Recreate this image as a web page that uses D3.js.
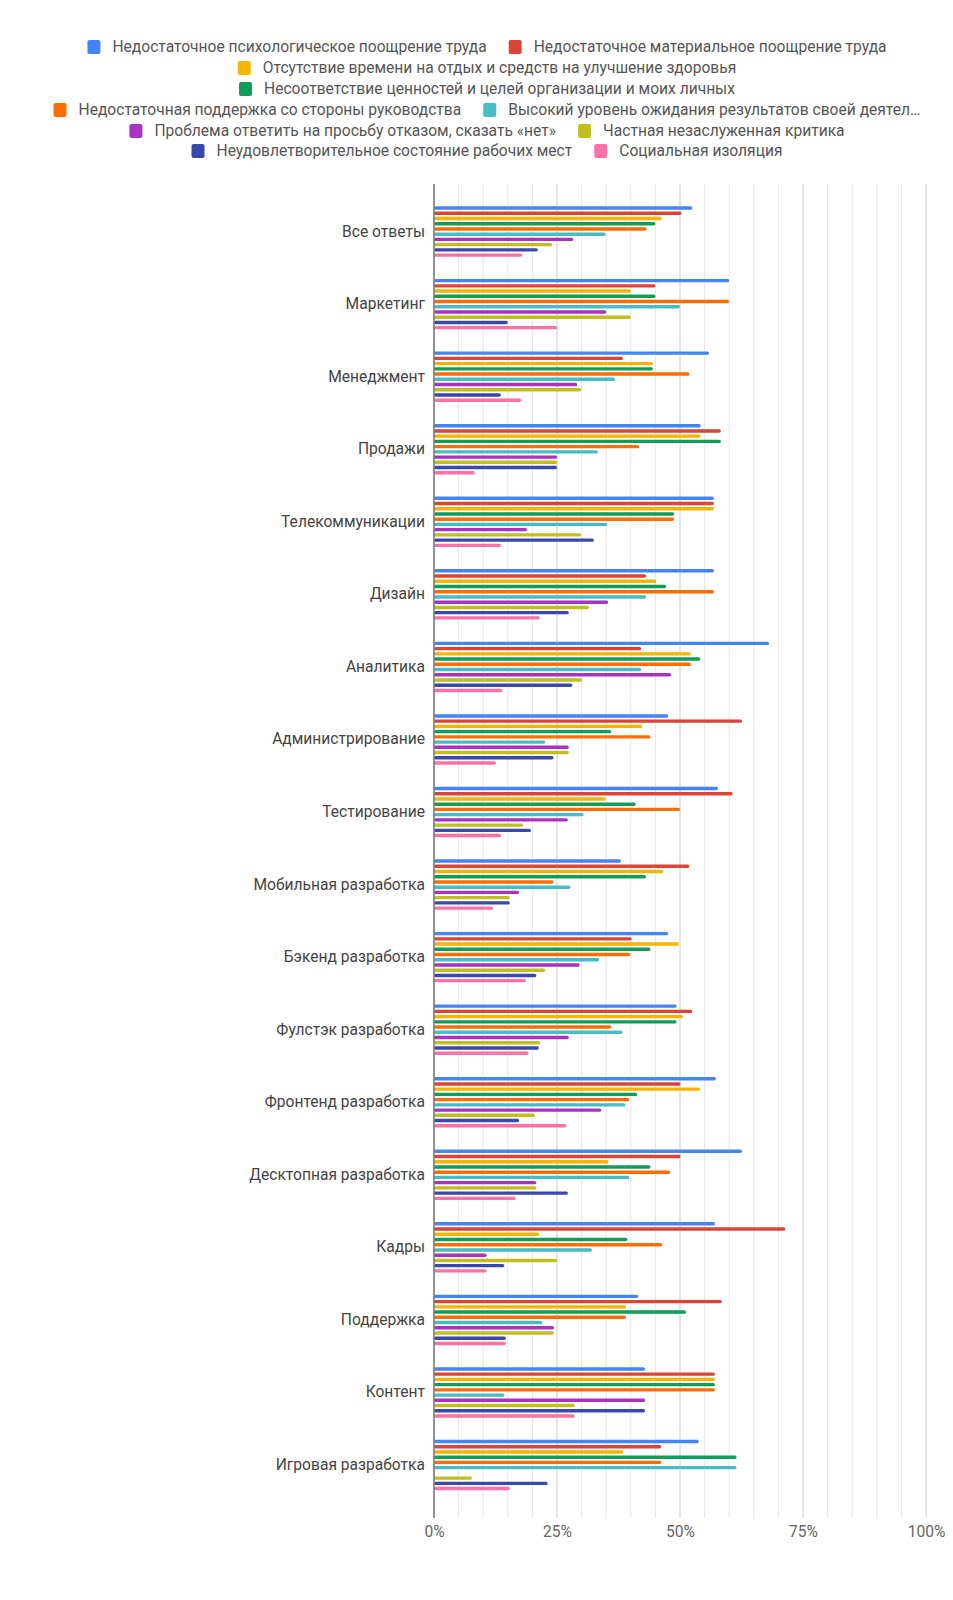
<!DOCTYPE html>
<html><head><meta charset="utf-8">
<script src="https://cdn.jsdelivr.net/npm/d3@7/dist/d3.min.js"></script>
<style>
html,body{margin:0;padding:0;background:#fff;}
svg{display:block;font-family:Roboto,"Noto Sans",Arial,sans-serif;}
</style></head>
<body>
<svg id="chart" width="953" height="1600"></svg>
<script>
const categories = ["Все ответы","Маркетинг","Менеджмент","Продажи","Телекоммуникации","Дизайн","Аналитика","Администрирование","Тестирование","Мобильная разработка","Бэкенд разработка","Фулстэк разработка","Фронтенд разработка","Десктопная разработка","Кадры","Поддержка","Контент","Игровая разработка"];

const seriesNames = [
  "Недостаточное психологическое поощрение труда",
  "Недостаточное материальное поощрение труда",
  "Отсутствие времени на отдых и средств на улучшение здоровья",
  "Несоответствие ценностей и целей организации и моих личных",
  "Недостаточная поддержка со стороны руководства",
  "Высокий уровень ожидания результатов своей деятельности",
  "Проблема ответить на просьбу отказом, сказать «нет»",
  "Частная незаслуженная критика",
  "Неудовлетворительное состояние рабочих мест",
  "Социальная изоляция"
];
const seriesColors = ["#4285F4","#DB4437","#F4B400","#0F9D58","#FF6D00","#46BDC6","#AB30C4","#C2BE1E","#3949AB","#FF70A8"];

const psychReward   = [52.5,60,55.9,54.2,56.9,56.9,68.1,47.6,57.7,38.0,47.6,49.3,57.3,62.6,57.1,41.5,42.9,53.8];
const materialReward= [50.3,45,38.4,58.3,56.9,43.1,42.1,62.6,60.7,51.9,40.2,52.5,50.1,50.1,71.4,58.5,57.1,46.2];
const noRest        = [46.3,40,44.5,54.2,56.9,45.2,52.2,42.3,34.9,46.6,49.8,50.6,54.1,35.5,21.4,39.0,57.1,38.5];
const valuesMismatch= [45.0,45,44.5,58.3,48.8,47.2,54.1,36.0,41.0,43.1,44.0,49.3,41.3,44.0,39.3,51.2,57.1,61.5];
const lowSupport    = [43.2,60,51.9,41.7,48.8,56.9,52.2,44.0,50.0,24.3,39.9,36.0,39.7,48.0,46.4,39.0,57.1,46.2];
const highExpect    = [34.9,50,36.8,33.3,35.2,43.1,42.1,22.6,30.4,27.7,33.6,38.3,38.9,39.7,32.1,22.0,14.3,61.5];
const cantRefuse    = [28.3,35,29.1,25.0,18.9,35.4,48.2,27.4,27.2,17.3,29.6,27.4,34.0,20.8,10.7,24.4,42.9,null];
const unfairCritic  = [24.0,40,29.9,25.0,29.9,31.5,30.1,27.4,18.1,15.4,22.6,21.6,20.5,20.8,25.0,24.4,28.6,7.7];
const badWorkplace  = [21.1,15,13.6,25.0,32.5,27.4,28.1,24.3,19.7,15.4,20.8,21.3,17.3,27.2,14.3,14.6,42.9,23.1];
const isolation     = [17.9,25,17.7,8.3,13.6,21.5,13.9,12.6,13.6,12.0,18.7,19.2,26.9,16.6,10.7,14.6,28.6,15.4];

const xTicks = [0,25,50,75,100];
const xTickLabels = ["0%","25%","50%","75%","100%"];

const seriesValues = [psychReward,materialReward,noRest,valuesMismatch,lowSupport,highExpect,cantRefuse,unfairCritic,badWorkplace,isolation];
// legend shows the long 6th name truncated, as in the original
const legendLabels = seriesNames.map((n,i) => i === 5 ? n.slice(0,49) + "…" : n);

const svg = d3.select("#chart");

const x = d3.scaleLinear().domain([0,100]).range([434,926]);
const y0 = d3.scaleBand().domain(categories).range([195.3,1501.3]).paddingInner(0).paddingOuter(0);
const y1 = d3.scaleBand().domain(d3.range(seriesNames.length)).range([-26.15,26.15]);
const plotTop = 184, plotBottom = 1518;

const grid = svg.append("g");
d3.range(5,101,5).forEach(v=>{
  grid.append("line")
    .attr("x1",x(v)).attr("x2",x(v)).attr("y1",plotTop).attr("y2",plotBottom)
    .attr("stroke", v%25===0 ? "#cccccc" : "#e6e6e6").attr("stroke-width",1);
});

const groups = svg.append("g").selectAll("g").data(categories).join("g")
  .attr("transform", d => `translate(0,${y0(d)+y0.bandwidth()/2})`);
const barH = 3.4;
groups.each(function(cat, ci){
  const g = d3.select(this);
  seriesValues.forEach((arr, si)=>{
    const v = arr[ci];
    if (v == null) return;
    g.append("rect")
      .attr("x", x(0))
      .attr("y", y1(si) + y1.bandwidth()/2 - barH/2)
      .attr("width", x(v)-x(0))
      .attr("height", barH)
      .attr("rx", 1.6)
      .attr("fill", seriesColors[si]);
  });
});

svg.append("line").attr("x1",x(0)).attr("x2",x(0)).attr("y1",plotTop).attr("y2",plotBottom)
  .attr("stroke","#777").attr("stroke-width",1.6);

const yAxis = d3.axisLeft(y0).tickSize(0).tickPadding(0);
const ya = svg.append("g").attr("transform","translate(425,0)").call(yAxis);
ya.select(".domain").remove();
ya.selectAll("text").attr("font-size",15.6).attr("fill","#444").attr("font-family","Roboto, sans-serif");

const xAxis = d3.axisBottom(x).tickValues(xTicks).tickFormat((d,i)=>xTickLabels[i]).tickSize(0).tickPadding(0);
const xa = svg.append("g").attr("transform","translate(0,1526)").call(xAxis);
xa.select(".domain").remove();
xa.selectAll("text").attr("font-size",15.6).attr("fill","#666").attr("dy","0.71em").attr("font-family","Roboto, sans-serif");

const legendRows = [[0,1],[2],[3],[4,5],[6,7],[8,9]];
const rowY = [47,68,89,110,131,151];
const legendCenter = 487;
const lg = svg.append("g");
legendRows.forEach((row, ri)=>{
  const rg = lg.append("g");
  let cx = 0;
  row.forEach((si, k)=>{
    if (k>0) cx += 22;
    rg.append("rect").attr("x",cx).attr("y",rowY[ri]-7).attr("width",13).attr("height",14).attr("rx",2)
      .attr("fill",seriesColors[si]);
    cx += 13 + 12;
    const t = rg.append("text").attr("x",cx).attr("y",rowY[ri]).attr("dy","0.35em")
      .attr("font-size",15.6).attr("fill","#555").text(legendLabels[si]);
    cx += t.node().getComputedTextLength();
  });
  rg.attr("transform",`translate(${legendCenter - cx/2},0)`);
});
</script>
</body></html>
